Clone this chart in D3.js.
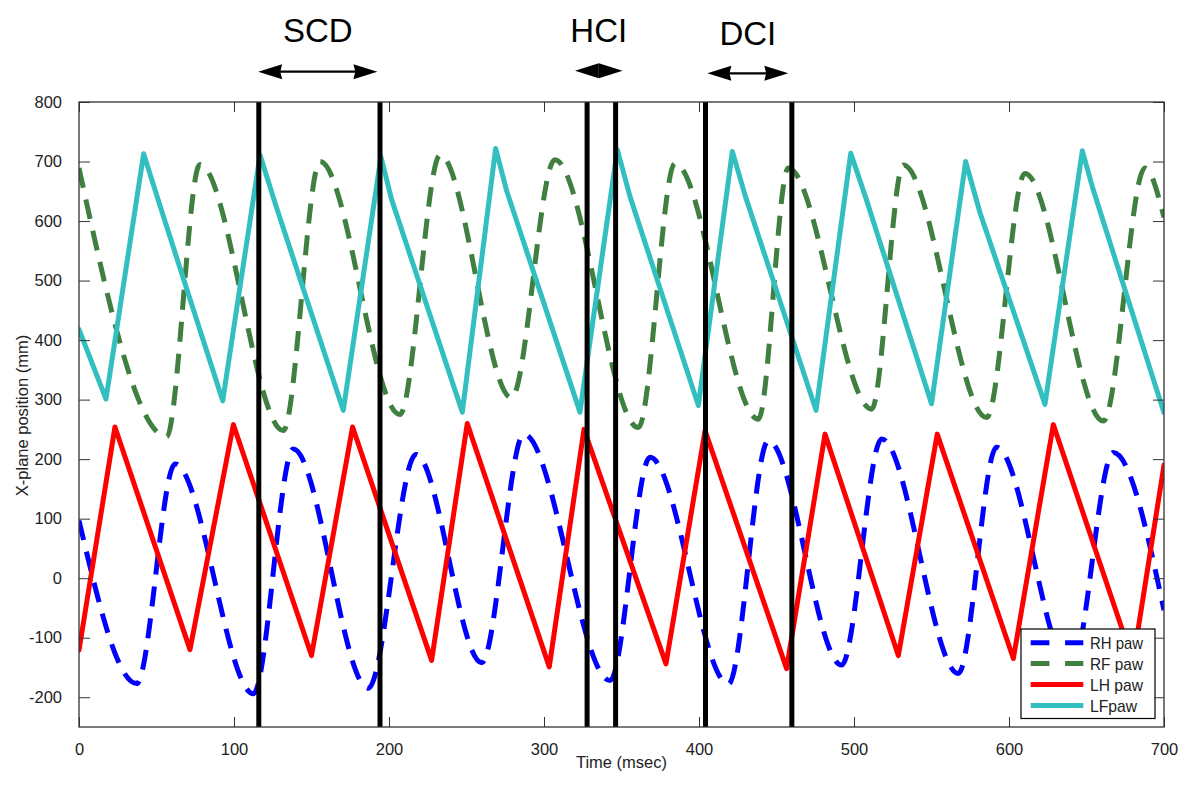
<!DOCTYPE html>
<html>
<head>
<meta charset="utf-8">
<script src="https://cdn.jsdelivr.net/npm/d3@7"></script>
<style>
  html, body { margin: 0; padding: 0; background: #fff; }
  svg { display: block; font-family: "Liberation Sans", Arial, Helvetica, sans-serif; }
</style>
</head>
<body>
<svg id="chart" width="1200" height="789"></svg>
<script>
// ---------------- data ----------------
const seriesNames = ["RH paw", "RF paw", "LH paw", "LFpaw"];
const seriesColors = ["#0000ff", "#3f7f3f", "#ff0000", "#33bfbf"];
const seriesDashed = [true, true, false, false];

// RH paw (blue dashed)
const rhTime = [0, 37.2, 62, 112.5, 138.3, 186.6, 217.4, 259.8, 287, 342.6, 368.4, 419, 444.7, 492, 517.9, 567.3, 592, 640, 667.3, 700];
const rhPos  = [97, -177, 192, -194, 217, -185, 208, -142, 242, -172, 203, -178, 231, -146, 234, -160, 220, -155, 211, -54];

// RF paw (green dashed)
const rfTime = [0, 56.5, 78, 131.8, 155.5, 207, 233, 279, 307, 360.9, 384.5, 438.3, 457.6, 511.4, 531.8, 585.6, 610.3, 660.9, 687.7, 700];
const rfPos  = [689, 238, 695, 248, 700, 275, 711, 303, 703, 253, 697, 267, 689, 284, 694, 270, 680, 264, 689, 606];

// LH paw (red solid)
const lhTime = [0, 23.2, 71.6, 99.6, 150, 176.5, 227.5, 250.5, 303.4, 325.8, 378.7, 403.9, 456.5, 481.3, 528.6, 553.7, 602.8, 628.6, 680, 700];
const lhPos  = [-121, 254, -120, 258, -130, 254, -138, 260, -149, 250, -144, 248, -152, 242, -130, 242, -135, 258, -140, 190];

// LF paw (cyan solid)
const lfTime = [0, 17.4, 41.7, 51.6, 92.7, 116.8, 126.9, 170.5, 194.8, 201.7, 247.3, 268.8, 276, 323.2, 347.3, 355.5, 399.6, 421.5, 430, 475.5, 497.9, 508, 550, 572, 581.3, 623.2, 647.3, 654.4, 700];
const lfPos  = [418, 301, 713, 631, 298, 711, 627, 282, 708, 636, 279, 722, 650, 279, 720, 641, 290, 717, 641, 282, 714, 636, 293, 700, 614, 292, 718, 652, 278];

// event markers (msec)
const eventTimes = [116, 194.2, 327.8, 346.2, 404.2, 459.9];

// interval annotations
const intervalLabels = ["SCD", "HCI", "DCI"];
const intervalStart  = [115.6, 320, 405.4];
const intervalEnd    = [192.5, 350.7, 457.6];

// axes
const xTicks = [0, 100, 200, 300, 400, 500, 600, 700];
const yTicks = [-200, -100, 0, 100, 200, 300, 400, 500, 600, 700, 800];
const xDomain = [0, 700];
const yDomain = [-250, 800];
const xLabel = "Time (msec)";
const yLabel = "X-plane position (mm)";

// ---------------- drawing ----------------
const svg = d3.select("#chart");
const L = 79, R = 1164, T = 102, B = 727;
const x = d3.scaleLinear().domain(xDomain).range([L, R]);
const y = d3.scaleLinear().domain(yDomain).range([B, T]);

const series = [
  {time: rhTime, pos: rhPos, curve: d3.curveMonotoneX},
  {time: rfTime, pos: rfPos, curve: d3.curveMonotoneX},
  {time: lhTime, pos: lhPos, curve: d3.curveLinear},
  {time: lfTime, pos: lfPos, curve: d3.curveLinear}
];

svg.append("defs").append("clipPath").attr("id", "plotclip")
  .append("rect").attr("x", L).attr("y", T).attr("width", R - L).attr("height", B - T);

const axisColor = "#333";
const fontSize = 16.5;
const fmt = d => String(d);

// curves
const plotG = svg.append("g").attr("clip-path", "url(#plotclip)");
series.forEach((s, i) => {
  const pts = s.time.map((t, j) => [t, s.pos[j]]);
  const line = d3.line().x(d => x(d[0])).y(d => y(d[1])).curve(s.curve);
  plotG.append("path")
    .attr("d", line(pts))
    .attr("fill", "none")
    .attr("stroke", seriesColors[i])
    .attr("stroke-width", 5)
    .attr("stroke-linejoin", "round")
    .attr("stroke-linecap", seriesDashed[i] ? "butt" : "round")
    .attr("stroke-dasharray", seriesDashed[i] ? "20,12" : null);
});

// event lines
svg.append("g").selectAll("line").data(eventTimes).join("line")
  .attr("x1", d => x(d)).attr("x2", d => x(d))
  .attr("y1", T).attr("y2", B)
  .attr("stroke", "#000").attr("stroke-width", 5);

// axes (box with inward ticks)
const xAxisB = d3.axisBottom(x).tickValues(xTicks).tickSize(-10).tickPadding(16).tickFormat(fmt);
const xAxisT = d3.axisTop(x).tickValues(xTicks).tickSize(-10).tickFormat("");
const yAxisL = d3.axisLeft(y).tickValues(yTicks).tickSize(-11).tickPadding(17).tickFormat(fmt);
const yAxisR = d3.axisRight(y).tickValues(yTicks).tickSize(-11).tickFormat("");

function styleAxis(g) {
  g.select(".domain").remove();
  g.selectAll(".tick line").attr("stroke", axisColor).attr("stroke-width", 1);
  g.selectAll(".tick text").attr("fill", "#222").attr("font-size", fontSize).attr("font-family", null);
}
svg.append("g").attr("transform", `translate(0,${B})`).call(xAxisB).call(styleAxis);
svg.append("g").attr("transform", `translate(0,${T})`).call(xAxisT).call(styleAxis);
svg.append("g").attr("transform", `translate(${L},0)`).call(yAxisL).call(styleAxis);
svg.append("g").attr("transform", `translate(${R},0)`).call(yAxisR).call(styleAxis);

svg.append("rect").attr("x", L).attr("y", T).attr("width", R - L).attr("height", B - T)
  .attr("fill", "none").attr("stroke", axisColor).attr("stroke-width", 1.3);

// axis labels
svg.append("text").attr("x", (L + R) / 2).attr("y", 768)
  .attr("text-anchor", "middle").attr("font-size", fontSize).attr("fill", "#222").text(xLabel);
svg.append("text").attr("transform", `translate(28,${(T + B) / 2 + 1}) rotate(-90)`)
  .attr("text-anchor", "middle").attr("font-size", fontSize).attr("fill", "#222").text(yLabel);

// interval annotations
const annY = [71.7, 70.7, 73.3];
const annBase = [41.7, 41.7, 45];
const headLen = 24, headHalf = 7.5;
intervalLabels.forEach((lab, i) => {
  const x0 = x(intervalStart[i]), x1 = x(intervalEnd[i]);
  const g = svg.append("g");
  const yy = annY[i];
  const hl = Math.min(headLen, (x1 - x0) / 2);
  const notch = hl < headLen ? 1 : 0.92;
  if (x1 - x0 > 2 * hl + 1) {
    g.append("line").attr("x1", x0 + hl * 0.9).attr("x2", x1 - hl * 0.9).attr("y1", yy).attr("y2", yy)
      .attr("stroke", "#000").attr("stroke-width", 2.2);
  }
  g.append("path").attr("d", `M${x0},${yy} L${x0 + hl},${yy - headHalf} L${x0 + hl * notch},${yy} L${x0 + hl},${yy + headHalf} Z`).attr("fill", "#000");
  g.append("path").attr("d", `M${x1},${yy} L${x1 - hl},${yy - headHalf} L${x1 - hl * notch},${yy} L${x1 - hl},${yy + headHalf} Z`).attr("fill", "#000");
  g.append("text").attr("x", (x0 + x1) / 2).attr("y", annBase[i])
    .attr("text-anchor", "middle").attr("font-size", 33).attr("fill", "#000").text(lab);
});

// legend
const lg = svg.append("g");
lg.append("rect").attr("x", 1021).attr("y", 629).attr("width", 134).attr("height", 89.5)
  .attr("fill", "#fff").attr("stroke", "#000").attr("stroke-width", 1.2);
const legY = [642.7, 663.5, 684.5, 705.5];
seriesNames.forEach((nm, i) => {
  lg.append("line").attr("x1", 1030.7).attr("x2", 1083.3).attr("y1", legY[i]).attr("y2", legY[i])
    .attr("stroke", seriesColors[i]).attr("stroke-width", 5)
    .attr("stroke-dasharray", seriesDashed[i] ? "18.7,15.7" : null);
  lg.append("text").attr("x", 1090).attr("y", legY[i]).attr("dy", "0.36em")
    .attr("font-size", 17).attr("fill", "#222")
    .attr("textLength", nm === "LFpaw" ? 47 : 53).attr("lengthAdjust", "spacingAndGlyphs")
    .text(nm);
});
</script>
</body>
</html>
